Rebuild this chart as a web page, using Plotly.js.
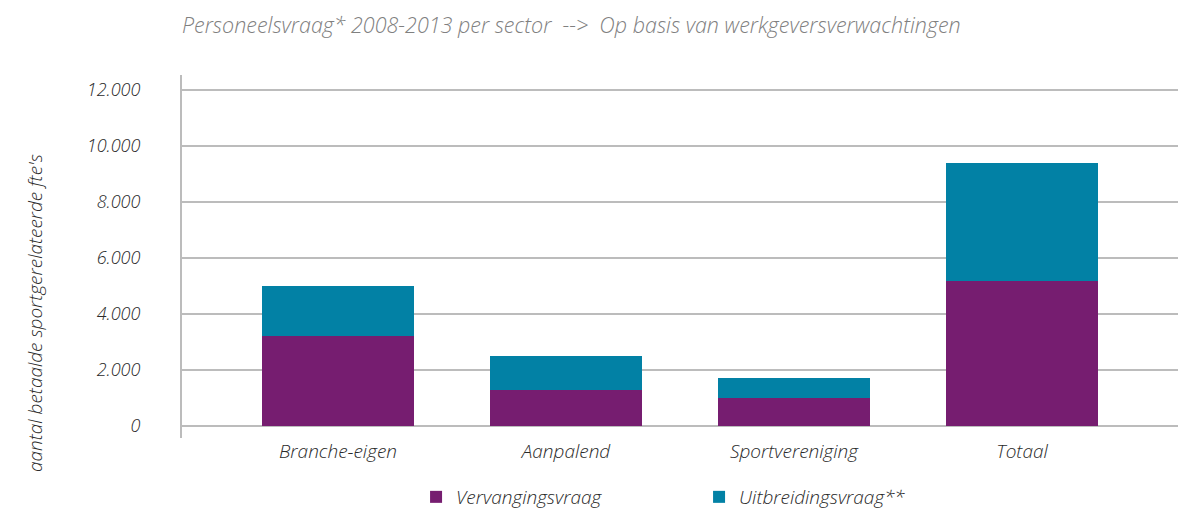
<!DOCTYPE html>
<html>
<head>
<meta charset="utf-8">
<script src="https://cdn.plot.ly/plotly-3.0.1.min.js"></script>
<style>html,body{margin:0;padding:0;background:#fff;}#chart{width:1178px;height:509px;}</style>
</head>
<body>
<div id="chart"></div>
<script>
const categories = ['Branche-eigen', 'Aanpalend', 'Sportvereniging', 'Totaal'];
const vervangingsvraag = [3200, 1270, 1000, 5160];
const uitbreidingsvraag = [1800, 1230, 700, 4240];
const seriesNames = ['Vervangingsvraag', 'Uitbreidingsvraag**'];
const yTicks = [0, 2000, 4000, 6000, 8000, 10000, 12000];

const FONT = 'Open Sans, DejaVu Sans, sans-serif';

const traces = [
  {type: 'bar', name: seriesNames[0], x: categories, y: vervangingsvraag,
   marker: {color: '#761d70', line: {width: 0}}},
  {type: 'bar', name: seriesNames[1], x: categories, y: uitbreidingsvraag,
   marker: {color: '#0281a5', line: {width: 0}}}
];

const layout = {
  width: 1178, height: 509,
  margin: {l: 182, r: 0, t: 75, b: 71, autoexpand: false},
  paper_bgcolor: '#fff', plot_bgcolor: '#fff',
  barmode: 'stack', bargap: 0.333,
  separators: ',.',
  font: {family: FONT, color: '#2a2a2a', weight: 300},
  title: {text: 'Personeelsvraag* 2008-2013 per sector  -->  Op basis van werkgeversverwachtingen',
          x: 0, xref: 'paper', xanchor: 'left', y: 1 - 25/509, yref: 'container', yanchor: 'middle',
          font: {family: FONT, size: 21.5, color: '#808080', style: 'italic', weight: 300}},
  xaxis: {type: 'category', range: [-0.684, 3.684], showgrid: false, zeroline: false, showline: false,
          automargin: false,
          ticks: '', tickfont: {size: 19, color: '#2a2a2a', style: 'italic', weight: 300}, fixedrange: true},
  yaxis: {range: [-440, 12540], tickvals: yTicks, tickformat: ',d', showgrid: true, gridcolor: '#bcbcbc',
          gridwidth: 2, zeroline: false, showline: true, linecolor: '#bcbcbc', linewidth: 2,
          automargin: false,
          ticks: '', ticklabelstandoff: 36, tickfont: {size: 18, color: '#2a2a2a', style: 'italic', weight: 300}},
  showlegend: true,
  legend: {orientation: 'h', x: 0.235, xanchor: 'left', xref: 'paper',
           y: 1 - 497/509, yref: 'container', yanchor: 'middle',
           entrywidth: 238, traceorder: 'normal',
           font: {size: 19, color: '#2a2a2a', style: 'italic', weight: 300}},
  annotations: [{text: "aantal betaalde sportgerelateerde fte's", textangle: -90, showarrow: false,
                 xref: 'paper', yref: 'paper', x: (35 - 182) / 996, y: (438 - 313) / 363,
                 xanchor: 'center', yanchor: 'middle',
                 font: {family: FONT, size: 19, color: '#2a2a2a', style: 'italic', weight: 300}}]
};

Plotly.newPlot('chart', traces, layout, {displayModeBar: false, staticPlot: true});
</script>
</body>
</html>
